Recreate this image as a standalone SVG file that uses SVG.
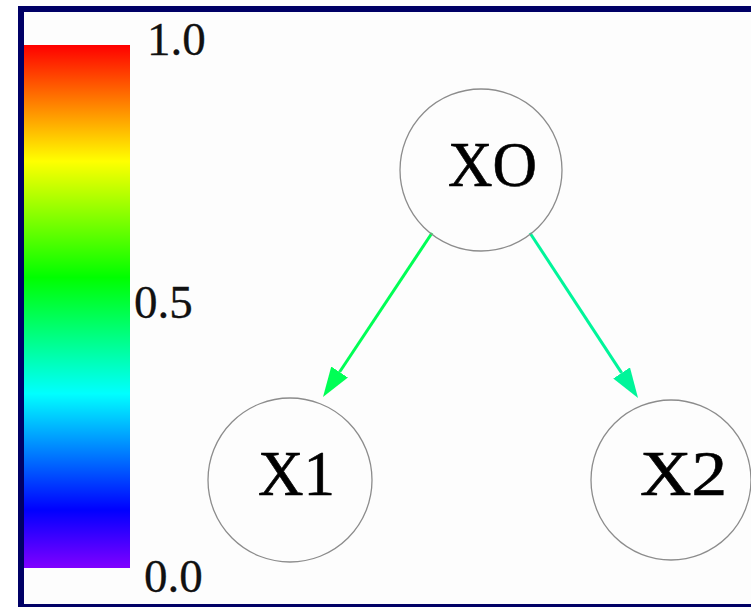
<svg xmlns="http://www.w3.org/2000/svg" width="751" height="607" viewBox="0 0 751 607">
<style>
.node circle{fill:none;stroke:#8c8c8c;stroke-width:1.3}
.node text{font-family:"Liberation Serif","Times New Roman",serif;font-size:64px;fill:#000;stroke:#000;stroke-width:0.6}
.tick{font-family:"Liberation Serif","Times New Roman",serif;font-size:47px;fill:#111;stroke:#111;stroke-width:0.3}
.edge{fill:none;stroke-width:3}
</style>
<defs>
<linearGradient id="rainbow" x1="0" y1="0" x2="0" y2="1">
<stop offset="0" stop-color="#ff0000"/>
<stop offset="0.2222" stop-color="#ffff00"/>
<stop offset="0.4444" stop-color="#00ff00"/>
<stop offset="0.6667" stop-color="#00ffff"/>
<stop offset="0.8889" stop-color="#0000ff"/>
<stop offset="1" stop-color="#8000ff"/>
</linearGradient>
<marker id="headA" markerUnits="userSpaceOnUse" markerWidth="31" markerHeight="21" refX="0" refY="10" orient="auto"><path d="M0,0 L30,10 L0,20 z" fill="#00ff55"/></marker>
<marker id="headB" markerUnits="userSpaceOnUse" markerWidth="31" markerHeight="21" refX="0" refY="10" orient="auto"><path d="M0,0 L30,10 L0,20 z" fill="#00f59a"/></marker>
</defs>
<rect x="0" y="0" width="751" height="607" fill="#ffffff"/>
<rect x="21" y="9" width="800" height="598" fill="#fdfdfd" stroke="#000066" stroke-width="6"/>
<g id="colorbar">
<rect x="24" y="45" width="106" height="523" fill="url(#rainbow)"/>
<text class="tick" x="147" y="55">1.0</text>
<text class="tick" x="134" y="318">0.5</text>
<text class="tick" x="144" y="592">0.0</text>
</g>
<g id="edges">
<path class="edge" d="M432,233 L339.6,372" stroke="#00ff55" marker-end="url(#headA)"/>
<path class="edge" d="M530,233 L621.6,372.9" stroke="#00f59a" marker-end="url(#headB)"/>
</g>
<g id="X0" class="node">
<circle cx="481" cy="170" r="81"/>
<text x="448" y="186" textLength="89" lengthAdjust="spacingAndGlyphs">XO</text>
</g>
<g id="X1" class="node">
<circle cx="290" cy="480" r="82"/>
<text x="258" y="495" textLength="77" lengthAdjust="spacingAndGlyphs">X1</text>
</g>
<g id="X2" class="node">
<circle cx="671" cy="480" r="80"/>
<text x="640" y="495" textLength="87" lengthAdjust="spacingAndGlyphs">X2</text>
</g>
</svg>
